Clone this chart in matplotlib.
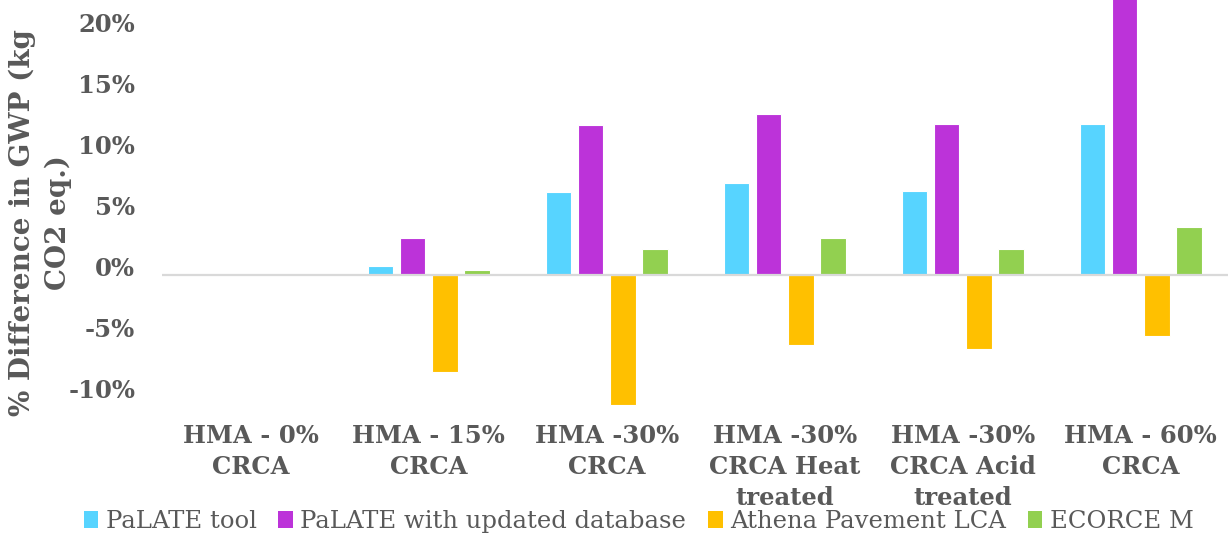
import numpy as np
import matplotlib
matplotlib.use("Agg")
import matplotlib.pyplot as plt
import matplotlib.transforms as mtransforms
from matplotlib.patches import Patch

# Mix designs compared
categories = ["HMA - 0%\nCRCA", "HMA - 15%\nCRCA", "HMA -30%\nCRCA",
              "HMA -30%\nCRCA Heat\ntreated", "HMA -30%\nCRCA Acid\ntreated",
              "HMA - 60%\nCRCA"]

# % difference in GWP relative to the 0% mix, per tool
palate = [0.0, 0.72, 6.73, 7.46, 6.81, 12.32]
palate_updated = [0.0, 2.96, 12.23, 13.13, 12.34, 24.0]
athena = [0.0, -7.95, -10.68, -5.8, -6.12, -5.0]
ecorce = [0.0, 0.34, 2.11, 2.99, 2.11, 3.89]

series_names = ["PaLATE tool", "PaLATE with updated database",
                "Athena Pavement LCA", "ECORCE M"]
colors = ["#57D4FF", "#BC33D9", "#FFC000", "#92D050"]

yticks = [-10, -5, 0, 5, 10, 15, 20]

TEXT = "#595959"
SERIF = "DejaVu Serif"

fig = plt.figure(figsize=(12.28, 5.43), dpi=100)
ax = fig.add_axes([0.1317, 0.2468, 0.8697, 0.7532])

x = np.arange(len(categories))
pitch = 0.1815
width = 0.143
for i, (vals, col) in enumerate(zip([palate, palate_updated, athena, ecorce], colors)):
    ax.bar(x + (i - 1.5) * pitch, vals, width, color=col,
           edgecolor="white", linewidth=0.8, zorder=2)

ax.axhline(0, color="#D9D9D9", lw=1.6, zorder=3)

ax.set_xlim(-0.5, len(categories) - 0.5)
ax.set_ylim(-11, 22.46)

ax.set_yticks(yticks)
ax.set_yticklabels([f"{v}%" for v in yticks], fontfamily=SERIF,
                   fontweight="bold", fontsize=17.5, color=TEXT)
ax.set_xticks(x)
ax.set_xticklabels(categories, fontfamily=SERIF, fontweight="bold",
                   fontsize=17.5, color=TEXT, linespacing=1.35)
ax.tick_params(axis="y", length=0, pad=19)
ax.tick_params(axis="x", length=0, pad=11)

# nudge the y labels up a little
shift = mtransforms.ScaledTranslation(0, 8 / 100, fig.dpi_scale_trans)
for lbl in ax.get_yticklabels():
    lbl.set_transform(lbl.get_transform() + shift)

for s in ax.spines.values():
    s.set_visible(False)

ax.set_ylabel("% Difference in GWP (kg\nCO2 eq.)", fontfamily=SERIF,
              fontweight="bold", fontsize=20, color=TEXT, linespacing=1.4)
ax.yaxis.set_label_coords(-0.084, 0.455)

handles = [Patch(facecolor=c, edgecolor="none") for c in colors]
fig.legend(handles, series_names, loc="center", bbox_to_anchor=(0.52, 0.04),
           ncol=4, frameon=False, handlelength=0.6, handleheight=0.7,
           handletextpad=0.3, columnspacing=0.9,
           prop={"family": SERIF, "size": 17.5}, labelcolor=TEXT)

fig.savefig("out.png", dpi=100)
